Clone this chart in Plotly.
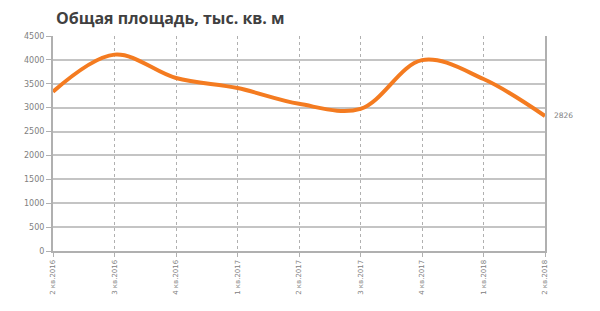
import plotly.graph_objects as go

categories = ["2 кв.2016", "3 кв.2016", "4 кв.2016", "1 кв.2017", "2 кв.2017",
              "3 кв.2017", "4 кв.2017", "1 кв.2018", "2 кв.2018"]
values = [3335, 4110, 3620, 3410, 3080, 2975, 3995, 3600, 2826]
y_ticks = [0, 500, 1000, 1500, 2000, 2500, 3000, 3500, 4000, 4500]
title_text = "Общая площадь, тыс. кв. м"

fig = go.Figure()
fig.add_trace(go.Scatter(
    x=categories, y=values,
    mode="lines",
    line=dict(color="#F47B20", width=4, shape="spline", smoothing=1.0),
    hoverinfo="skip",
))
fig.add_annotation(
    x=categories[-1], y=values[-1], text=str(values[-1]),
    showarrow=False, xanchor="left", yanchor="middle", xshift=7,
    font=dict(family="DejaVu Sans", size=7.5, color="#808080"),
)

fig.update_layout(
    width=600, height=311,
    margin=dict(l=53, r=55, t=36, b=60),
    paper_bgcolor="white", plot_bgcolor="white",
    showlegend=False,
    title=dict(text="<b>" + title_text + "</b>", x=56/600, xanchor="left",
               y=1 - 18/311, yanchor="middle",
               font=dict(family="Open Sans", size=16, color="#404040")),
)
fig.update_xaxes(
    type="category", range=[0, len(categories) - 1],
    showgrid=True, gridcolor="#b0b0b0", griddash="dot", gridwidth=1,
    showline=True, linecolor="#b0b0b0", linewidth=2,
    ticks="outside", ticklen=4, tickcolor="#b0b0b0",
    tickangle=-90,
    tickfont=dict(family="DejaVu Sans", size=7, color="#808080"),
)
fig.update_yaxes(
    range=[0, 4500], tickvals=y_ticks,
    showgrid=True, gridcolor="#c4c4c4", gridwidth=1.5,
    showline=True, linecolor="#b0b0b0", linewidth=2, mirror=True,
    ticks="outside", ticklen=5, tickcolor="#b0b0b0",
    tickfont=dict(family="DejaVu Sans", size=8, color="#808080"),
    zeroline=False,
)

fig.write_html("out.html")
